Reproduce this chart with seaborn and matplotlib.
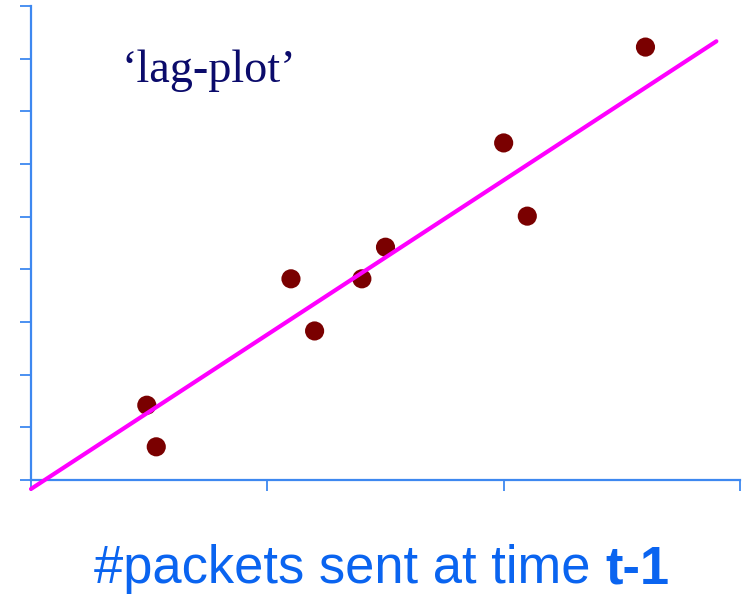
import matplotlib
matplotlib.use("Agg")
import matplotlib.pyplot as plt
import seaborn as sns
import pandas as pd

# data
x_prev = [0.49, 0.53, 1.10, 1.20, 1.40, 1.50, 2.00, 2.10, 2.60]
y_now = [1.42, 0.63, 3.82, 2.83, 3.82, 4.42, 6.40, 5.01, 8.22]
line_x = [0.0, 2.90]
line_y = [-0.17, 8.33]
x_ticks = [0, 1, 2, 3]
y_ticks = [0, 1, 2, 3, 4, 5, 6, 7, 8, 9]
title_text = "\u2018lag-plot\u2019"
xlabel_regular = "#packets sent at time "
xlabel_bold = "t-1"

sns.set_theme(style="white")
plt.rcParams['font.family'] = ['Liberation Sans', 'DejaVu Sans']

fig = plt.figure(figsize=(7.42, 5.97), dpi=100)
ax = fig.add_axes([31/742, (597-480)/597, (740-31)/742, (480-6)/597])

pts = pd.DataFrame({"x": x_prev, "y": y_now})
ln = pd.DataFrame({"x": line_x, "y": line_y})

sns.scatterplot(data=pts, x="x", y="y", ax=ax, s=190, color="#7a0000",
                edgecolor="none", zorder=2)
sns.lineplot(data=ln, x="x", y="y", ax=ax, color="#ff00ff", linewidth=3.0,
             zorder=3, clip_on=False)

ax.set_xlim(0, 3)
ax.set_ylim(0, 9)
ax.set_xticks(x_ticks)
ax.set_yticks(y_ticks)
ax.set_xticklabels([])
ax.set_yticklabels([])
ax.set_xlabel("")
ax.set_ylabel("")
spine_c = "#3d88f0"
for side in ["top", "right"]:
    ax.spines[side].set_visible(False)
for side in ["left", "bottom"]:
    ax.spines[side].set_color(spine_c)
    ax.spines[side].set_linewidth(1.6)
ax.tick_params(axis="both", direction="out", length=8, width=1.3,
               color=spine_c, bottom=True, left=True)

ax.text((122 - 31) / 709, (480 - 82) / 474, title_text, transform=ax.transAxes,
        fontsize=33.4, color="#0b0b6b", family=["Liberation Serif", "DejaVu Serif"],
        ha="left", va="baseline")

# x label: regular part + bold part
lab_c = "#0a64f0"
t1 = fig.text(0, 0, xlabel_regular, fontsize=37.8, color=lab_c, va="baseline")
t2 = fig.text(0, 0, xlabel_bold, fontsize=37.8, color=lab_c, fontweight="bold",
              va="baseline")
fig.canvas.draw()
r = fig.canvas.get_renderer()
w1 = t1.get_window_extent(r).width
w2 = t2.get_window_extent(r).width
total = w1 + w2
cx = 382
start = cx - total / 2
base_y = 597 - 583
t1.set_position((start / 742, base_y / 597))
t2.set_position(((start + w1) / 742, base_y / 597))

fig.savefig("out.png", dpi=100)
